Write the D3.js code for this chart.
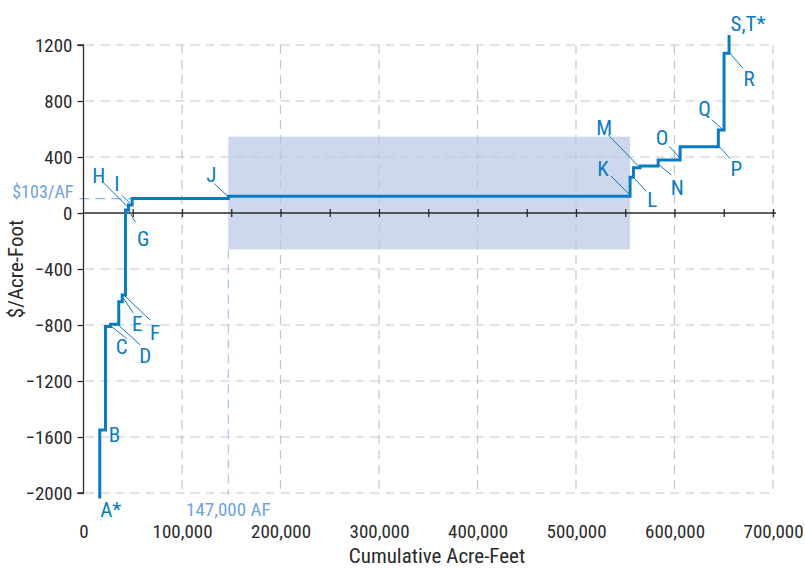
<!DOCTYPE html>
<html>
<head>
<meta charset="utf-8">
<script src="https://cdn.jsdelivr.net/npm/d3@7"></script>
<style>
  html, body { margin: 0; padding: 0; background: #fff; }
  svg { display: block; }
  text { font-family: "Liberation Sans Narrow", "Roboto Condensed", "DejaVu Sans Condensed", sans-serif; }
</style>
</head>
<body>
<svg id="chart" width="805" height="569"></svg>
<script>
// ---- data ----
const xTickValues = [0, 100000, 200000, 300000, 400000, 500000, 600000, 700000];
const yTickValues = [-2000, -1600, -1200, -800, -400, 0, 400, 800, 1200];
// step curve: each level begins at stepX[i]
const stepX = [16500, 16500, 22300, 27400, 35800, 39300, 42600, 45650, 49400, 147000, 554900, 558300, 565100, 583400, 605700, 644500, 650300, 655400];
const stepY = [-2040, -1550, -810, -795, -634, -586, 21, 57, 103, 120, 255, 324, 336, 379, 474, 593, 1141, 1271];
const shadeX = [147000, 554900];
const shadeY = [-260, 545];
const refPrice = 103;
const refVolume = 147000;
const labelNames = ["A*", "B", "C", "D", "E", "F", "G", "H", "I", "J", "K", "L", "M", "N", "O", "P", "Q", "R", "S,T*"];
const labelAnchorX = [16500, 22300, 28600, 35330, 40400, 42130, 45480, 43860, 47200, 147000, 554900, 559170, 563230, 584550, 605700, 645450, 648900, 656300, 655400];
const labelAnchorY = [-2040, -1550, -812, -800, -607, -593, 21, 50, 69, 116, 128, 248, 336, 343, 391, 474, 596, 1141, 1271];

// ---- styling / layout (offsets in px) ----
const labelLead = [null, null, [15,12], [22,20], [10,15], [25,24], [7,12], [-23,-23], [-8,-8], [-14,-13], [-19,-19], [12,13], [-30,-31], [12,10], [-11,-12], [11,12], [-11,-10], [13,15], null];
const labelText = [[11,11], [9,4], [10,20], [27,30], [14,25], [30,36], [15,28], [-28,-31], [-13,-20], [-17,-22], [-27,-27], [18,21], [-34,-39], [18,22], [-18,-21], [17,22], [-18,-21], [19,25], [19,-12]];

const blue = "#0b7bc1";
const lightBlue = "#6fa3dc";
const gridColor = "#c6c6c6";
const ink = "#2a2a2a";

const svg = d3.select("#chart");
const x = d3.scaleLinear().domain([0, 700000]).range([83.5, 773]);
const y = d3.scaleLinear().domain([-2000, 1200]).range([493, 45]);

// shaded band
svg.append("rect")
  .attr("x", x(shadeX[0])).attr("width", x(shadeX[1]) - x(shadeX[0]))
  .attr("y", y(shadeY[1])).attr("height", y(shadeY[0]) - y(shadeY[1]))
  .attr("fill", "#cdd8ee");

// grid
const grid = svg.append("g");
grid.selectAll(".hg").data(yTickValues.filter(d => d !== 0)).enter().append("line")
  .attr("x1", x(0) + 2).attr("x2", x(700000) + 2)
  .attr("y1", d => y(d)).attr("y2", d => y(d))
  .attr("stroke", gridColor).attr("stroke-width", 1.2).attr("stroke-dasharray", "9,6");
grid.selectAll(".vg").data(xTickValues.filter(d => d !== 0)).enter().append("line")
  .attr("x1", d => x(d)).attr("x2", d => x(d))
  .attr("y1", y(1200)).attr("y2", y(-2000))
  .attr("stroke", gridColor).attr("stroke-width", 1.2).attr("stroke-dasharray", "9,6");

// reference dashed lines
svg.append("line")
  .attr("x1", x(0) - 4).attr("x2", x(49400))
  .attr("y1", y(refPrice)).attr("y2", y(refPrice))
  .attr("stroke", "#8db5e3").attr("stroke-width", 1.2).attr("stroke-dasharray", "10,6");
svg.append("line")
  .attr("x1", x(refVolume)).attr("x2", x(refVolume))
  .attr("y1", y(shadeY[0])).attr("y2", y(-2000) + 2)
  .attr("stroke", "#a9c4e8").attr("stroke-width", 1.2).attr("stroke-dasharray", "9,6");

// y axis
const yAxis = d3.axisLeft(y).tickValues(yTickValues).tickSize(6).tickPadding(5).tickFormat(d3.format("d"));
const gy = svg.append("g").attr("transform", `translate(${x(0)},0)`).call(yAxis);
gy.select(".domain").attr("stroke", ink).attr("stroke-width", 1.3).attr("d", `M-6,${y(1200)}H0V${y(-2000)}H-6`);
gy.selectAll(".tick line").attr("stroke", ink).attr("stroke-width", 1.3);
gy.selectAll(".tick text").attr("font-size", 19).attr("fill", ink)
  .attr("font-family", "'Liberation Sans Narrow', sans-serif");

// zero axis with small ticks every 50,000
const zeroAxis = d3.axisBottom(x).tickValues(d3.range(50000, 750000, 50000)).tickSize(4).tickFormat("");
const gz = svg.append("g").attr("transform", `translate(0,${y(0)})`).call(zeroAxis);
gz.select(".domain").attr("stroke", ink).attr("stroke-width", 1.3).attr("d", `M${x(0)},0H${x(700000) + 3}`);
gz.selectAll(".tick line").attr("stroke", ink).attr("stroke-width", 1.3).attr("y1", -4).attr("y2", 4);

// x tick labels (no axis line)
const xAxis = d3.axisBottom(x).tickValues(xTickValues).tickSize(0).tickPadding(0).tickFormat(d3.format(","));
const gx = svg.append("g").attr("transform", `translate(0,${y(-2000) + 31})`).call(xAxis);
gx.select(".domain").remove();
gx.selectAll(".tick text").attr("font-size", 19).attr("fill", ink)
  .attr("font-family", "'Liberation Sans Narrow', sans-serif");

// axis titles
svg.append("text").attr("x", 437).attr("y", 563).attr("text-anchor", "middle")
  .attr("font-size", 21).attr("fill", ink).text("Cumulative Acre-Feet");
svg.append("text").attr("transform", `translate(23,${(y(1200) + y(-2000)) / 2}) rotate(-90)`)
  .attr("text-anchor", "middle").attr("font-size", 21).attr("fill", ink).text("$/Acre-Foot");

// reference labels
svg.append("text").attr("x", x(0) - 10).attr("y", y(refPrice) - 7).attr("dy", "0.35em")
  .attr("text-anchor", "end").attr("font-size", 18).attr("fill", lightBlue).text("$103/AF");
svg.append("text").attr("x", x(refVolume)).attr("y", y(-2000) + 16).attr("dy", "0.35em")
  .attr("text-anchor", "middle").attr("font-size", 19).attr("fill", lightBlue).text("147,000 AF");

// step line
const pts = stepX.map((d, i) => [d, stepY[i]]);
const line = d3.line().x(d => x(d[0])).y(d => y(d[1])).curve(d3.curveStepAfter);
svg.append("path").datum(pts).attr("d", line)
  .attr("fill", "none").attr("stroke", blue).attr("stroke-width", 3).attr("stroke-linejoin", "miter");

// labels + leaders
const ann = svg.append("g");
labelNames.forEach((name, i) => {
  const ax = x(labelAnchorX[i]), ay = y(labelAnchorY[i]);
  if (labelLead[i]) {
    ann.append("line").attr("x1", ax).attr("y1", ay)
      .attr("x2", ax + labelLead[i][0]).attr("y2", ay + labelLead[i][1])
      .attr("stroke", blue).attr("stroke-width", 1);
  }
  ann.append("text").attr("x", ax + labelText[i][0]).attr("y", ay + labelText[i][1])
    .attr("dy", "0.36em").attr("text-anchor", "middle")
    .attr("font-size", 21).attr("fill", blue).text(name);
});
</script>
</body>
</html>
